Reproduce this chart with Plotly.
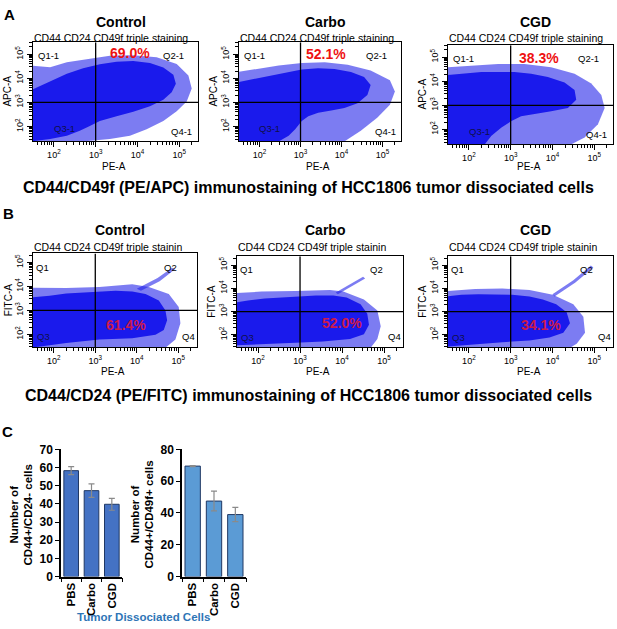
import math
import plotly.graph_objects as go

W, H = 617, 629
FONT = "Liberation Sans, Arial, sans-serif"

# ---------------- data ----------------
PANEL_TITLES = ["Control", "Carbo", "CGD"]
A_PCT = ["69.0%", "52.1%", "38.3%"]
B_PCT = ["61.4%", "52.0%", "34.1%"]
A_QUADS = ["Q1-1", "Q2-1", "Q3-1", "Q4-1"]
B_QUADS = ["Q1", "Q2", "Q3", "Q4"]
FLOW_TICK_VALS = [2, 3, 4, 5]
FLOW_TICK_TEXT = ["10<sup>2</sup>", "10<sup>3</sup>", "10<sup>4</sup>", "10<sup>5</sup>"]
GATE = 3.0  # log10(10^3)

# outlines of the event clouds, log10 units (PE-A, APC-A / FITC-A)
A_CTRL_CORE_X = [1.45, 1.91, 2.31, 2.70, 3.10, 3.50, 3.90, 4.30, 4.62, 4.86, 4.92, 4.82, 4.62, 4.30, 3.90, 3.50, 3.10, 2.86, 2.62, 2.31, 1.91, 1.45]
A_CTRL_CORE_Y = [3.51, 3.88, 4.19, 4.42, 4.58, 4.69, 4.72, 4.64, 4.45, 4.15, 3.78, 3.42, 3.11, 2.84, 2.61, 2.43, 2.23, 2.02, 1.82, 1.62, 1.48, 1.38]
A_CTRL_HALO_X = [1.45, 1.91, 2.31, 2.78, 3.34, 3.90, 4.46, 4.94, 5.22, 5.30, 5.18, 4.94, 4.62, 4.22, 3.82, 3.34, 2.70, 1.45]
A_CTRL_HALO_Y = [4.53, 4.46, 4.67, 4.80, 4.94, 4.96, 4.87, 4.60, 4.12, 3.58, 3.04, 2.63, 2.23, 1.89, 1.62, 1.48, 1.38, 1.38]

A_CARBO_CORE_X = [1.45, 1.83, 2.23, 2.63, 3.03, 3.43, 3.83, 4.23, 4.55, 4.71, 4.63, 4.39, 4.07, 3.75, 3.43, 3.19, 3.03, 2.87, 2.71, 2.47, 1.45]
A_CARBO_CORE_Y = [3.83, 3.96, 4.10, 4.26, 4.37, 4.42, 4.39, 4.26, 4.06, 3.72, 3.31, 2.97, 2.77, 2.66, 2.57, 2.43, 2.23, 1.89, 1.62, 1.38, 1.38]
A_CARBO_HALO_X = [1.45, 1.91, 2.47, 3.03, 3.59, 4.15, 4.71, 5.18, 5.30, 5.18, 4.87, 4.47, 4.07, 1.45]
A_CARBO_HALO_Y = [4.26, 4.39, 4.53, 4.64, 4.67, 4.56, 4.33, 3.92, 3.45, 2.90, 2.36, 1.82, 1.38, 1.38]

A_CGD_CORE_X = [1.45, 1.90, 2.30, 2.70, 3.09, 3.49, 3.89, 4.29, 4.53, 4.57, 4.37, 3.97, 3.57, 3.25, 3.02, 2.78, 2.54, 2.38, 1.45]
A_CGD_CORE_Y = [4.25, 4.31, 4.38, 4.38, 4.38, 4.31, 4.18, 3.95, 3.64, 3.23, 2.89, 2.76, 2.65, 2.55, 2.35, 2.08, 1.74, 1.38, 1.38]
A_CGD_HALO_X = [1.45, 2.06, 2.70, 3.33, 3.97, 4.53, 4.93, 5.17, 5.25, 5.09, 4.77, 4.45, 1.45]
A_CGD_HALO_Y = [4.58, 4.65, 4.72, 4.72, 4.58, 4.31, 3.91, 3.43, 2.89, 2.21, 1.67, 1.38, 1.38]

B_CTRL_CORE_X = [1.45, 1.90, 2.30, 2.70, 3.10, 3.49, 3.89, 4.21, 4.53, 4.69, 4.73, 4.65, 4.45, 3.89, 3.10, 2.30, 1.45]
B_CTRL_CORE_Y = [3.54, 3.61, 3.71, 3.75, 3.79, 3.82, 3.79, 3.68, 3.41, 3.00, 2.59, 2.18, 1.98, 1.84, 1.78, 1.64, 1.44]
B_CTRL_HALO_X = [1.45, 2.30, 3.10, 3.89, 4.29, 4.77, 5.01, 5.05, 4.93, 4.69, 1.45]
B_CTRL_HALO_Y = [3.95, 3.93, 3.98, 4.09, 3.98, 3.68, 3.14, 2.46, 1.78, 1.44, 1.44]
B_CTRL_STREAK_X = [4.00, 4.50, 4.85, 4.92, 4.55, 4.10]
B_CTRL_STREAK_Y = [3.90, 4.35, 4.78, 4.72, 4.22, 3.82]

B_CARBO_CORE_X = [1.45, 1.76, 2.16, 2.57, 2.98, 3.38, 3.79, 4.11, 4.44, 4.60, 4.64, 4.52, 4.19, 3.54, 2.89, 2.08, 1.45]
B_CARBO_CORE_Y = [3.38, 3.48, 3.56, 3.61, 3.65, 3.69, 3.69, 3.61, 3.31, 2.90, 2.43, 2.02, 1.82, 1.71, 1.65, 1.57, 1.54]
B_CARBO_HALO_X = [1.45, 2.08, 2.89, 3.71, 4.03, 4.52, 4.84, 4.92, 4.84, 4.68, 1.45]
B_CARBO_HALO_Y = [3.79, 3.86, 3.88, 3.93, 3.86, 3.52, 3.04, 2.36, 1.82, 1.44, 1.44]
B_CARBO_STREAK_X = [3.85, 4.20, 4.50, 4.55, 4.25, 3.90]
B_CARBO_STREAK_Y = [3.82, 4.20, 4.50, 4.42, 4.10, 3.75]

B_CGD_CORE_X = [1.45, 1.82, 2.23, 2.64, 3.04, 3.45, 3.77, 4.09, 4.34, 4.42, 4.26, 3.93, 3.45, 2.80, 1.99, 1.45]
B_CGD_CORE_Y = [3.65, 3.72, 3.75, 3.72, 3.72, 3.65, 3.52, 3.31, 2.97, 2.50, 2.09, 1.88, 1.75, 1.68, 1.54, 1.48]
B_CGD_HALO_X = [1.45, 2.15, 2.80, 3.45, 4.01, 4.50, 4.74, 4.78, 4.58, 4.42, 1.45]
B_CGD_HALO_Y = [3.88, 3.97, 3.99, 3.93, 3.72, 3.31, 2.77, 2.09, 1.61, 1.44, 1.44]
B_CGD_STREAK_X = [4.00, 4.50, 4.92, 4.98, 4.55, 4.05]
B_CGD_STREAK_Y = [3.75, 4.35, 4.98, 4.90, 4.25, 3.65]

# bar charts (panel C)
GROUPS = ["PBS", "Carbo", "CGD"]
CD24_MEAN = [58.3, 47.3, 39.8]
CD24_ERR = [2.2, 3.7, 3.3]
CD49F_MEAN = [69.5, 47.5, 39.0]
CD49F_ERR = [0.3, 6.2, 4.5]


# ---------------- layout helpers ----------------
def fx(p):
    return p / W


def fy(p):
    return 1 - p / H


CORE_COLOR = "#1a1aec"
HALO_COLOR = "rgba(30,30,232,0.58)"

fig = go.Figure()
layout = dict(
    width=W, height=H, margin=dict(l=0, r=0, t=0, b=0, pad=0), autosize=False,
    paper_bgcolor="white", plot_bgcolor="white", showlegend=False,
    font=dict(family=FONT, color="black"),
)
annotations = []
shapes = []

minor_vals = sorted(n + math.log10(k) for n in range(1, 6) for k in range(2, 10))

flow_panels = [
    dict(frame=(33, 198, 36, 137), yr=(1.4, 5.5), ylab="APC-A", core=(A_CTRL_CORE_X, A_CTRL_CORE_Y), halo=(A_CTRL_HALO_X, A_CTRL_HALO_Y), streak=None, title=PANEL_TITLES[0], pct=A_PCT[0], row="A"),
    dict(frame=(239, 401, 36, 137), yr=(1.4, 5.5), ylab="APC-A", core=(A_CARBO_CORE_X, A_CARBO_CORE_Y), halo=(A_CARBO_HALO_X, A_CARBO_HALO_Y), streak=None, title=PANEL_TITLES[1], pct=A_PCT[1], row="A"),
    dict(frame=(448, 613, 39, 140), yr=(1.4, 5.5), ylab="APC-A", core=(A_CGD_CORE_X, A_CGD_CORE_Y), halo=(A_CGD_HALO_X, A_CGD_HALO_Y), streak=None, title=PANEL_TITLES[2], pct=A_PCT[2], row="A"),
    dict(frame=(33, 197, 252, 348), yr=(1.46, 5.38), ylab="FITC-A", core=(B_CTRL_CORE_X, B_CTRL_CORE_Y), halo=(B_CTRL_HALO_X, B_CTRL_HALO_Y), streak=(B_CTRL_STREAK_X, B_CTRL_STREAK_Y), title=PANEL_TITLES[0], pct=B_PCT[0], row="B"),
    dict(frame=(237, 403, 255, 348), yr=(1.46, 5.38), ylab="FITC-A", core=(B_CARBO_CORE_X, B_CARBO_CORE_Y), halo=(B_CARBO_HALO_X, B_CARBO_HALO_Y), streak=(B_CARBO_STREAK_X, B_CARBO_STREAK_Y), title=PANEL_TITLES[1], pct=B_PCT[1], row="B"),
    dict(frame=(448, 613, 255, 348), yr=(1.46, 5.38), ylab="FITC-A", core=(B_CGD_CORE_X, B_CGD_CORE_Y), halo=(B_CGD_HALO_X, B_CGD_HALO_Y), streak=(B_CGD_STREAK_X, B_CGD_STREAK_Y), title=PANEL_TITLES[2], pct=B_PCT[2], row="B"),
]

A_PCT_POS = [(3.82, 5.07), (3.63, 5.0), (3.69, 4.95)]
B_PCT_POS = [(3.73, 2.39), (3.99, 2.50), (3.73, 2.43)]
X_RANGE = (1.5, 5.45)

for i, p in enumerate(flow_panels, start=1):
    sfx = "" if i == 1 else str(i)
    xr, yr_ = "x" + sfx, "y" + sfx
    l, r, t, b = p["frame"]
    y0, y1 = p["yr"]
    layout["xaxis" + sfx] = dict(
        domain=[fx(l), fx(r)], range=list(X_RANGE), anchor=yr_,
        showline=True, mirror=True, linecolor="black", linewidth=1,
        ticks="outside", ticklen=5, tickwidth=1, tickcolor="black",
        tickvals=FLOW_TICK_VALS, ticktext=FLOW_TICK_TEXT, tickfont=dict(size=9),
        minor=dict(tickvals=minor_vals, ticks="outside", ticklen=3, tickwidth=1, tickcolor="black"),
        showgrid=False, zeroline=False, fixedrange=True,
    )
    layout["yaxis" + sfx] = dict(
        domain=[fy(b), fy(t)], range=[y0, y1], anchor=xr,
        showline=True, mirror=True, linecolor="black", linewidth=1,
        ticks="outside", ticklen=5, tickwidth=1, tickcolor="black",
        tickvals=FLOW_TICK_VALS, ticktext=FLOW_TICK_TEXT, tickfont=dict(size=9), tickangle=-90,
        minor=dict(tickvals=minor_vals, ticks="outside", ticklen=3, tickwidth=1, tickcolor="black"),
        showgrid=False, zeroline=False, fixedrange=True,
    )
    hx, hy = p["halo"]
    fig.add_trace(go.Scatter(x=hx, y=hy, fill="toself", mode="lines", line=dict(width=0),
                             fillcolor=HALO_COLOR, xaxis=xr, yaxis=yr_, hoverinfo="skip"))
    if p["streak"]:
        sx, sy = p["streak"]
        fig.add_trace(go.Scatter(x=sx, y=sy, fill="toself", mode="lines", line=dict(width=0),
                                 fillcolor=HALO_COLOR, xaxis=xr, yaxis=yr_, hoverinfo="skip"))
    cx, cy = p["core"]
    fig.add_trace(go.Scatter(x=cx, y=cy, fill="toself", mode="lines", line=dict(width=0),
                             fillcolor=CORE_COLOR, xaxis=xr, yaxis=yr_, hoverinfo="skip"))
    shapes.append(dict(type="line", xref=xr, yref=yr_, x0=GATE, x1=GATE, y0=y0, y1=y1,
                       line=dict(color="black", width=1.3)))
    shapes.append(dict(type="line", xref=xr, yref=yr_, x0=X_RANGE[0], x1=X_RANGE[1], y0=GATE, y1=GATE,
                       line=dict(color="black", width=1.3)))
    cxp = (l + r) / 2
    if p["row"] == "A":
        title_y, sub_y, pe_y = 15, 32, 163
        quads = A_QUADS
        px_, py_ = A_PCT_POS[i - 1]
        pct_color = "#ee1111"
        qpos = [(1.87, 4.96), (4.86, 4.96), (2.25, 1.92), (5.06, 1.80)]
    else:
        title_y, sub_y, pe_y = 228, 245, 373
        quads = B_QUADS
        px_, py_ = B_PCT_POS[i - 4]
        pct_color = "#cc1a4a"
        qpos = [(1.72, 4.80), (4.81, 4.80), (1.75, 1.90), (5.25, 1.92)]
    annotations.append(dict(x=fx(cxp + 5), y=fy(title_y), xref="paper", yref="paper", text="<b>%s</b>" % p["title"],
                            showarrow=False, font=dict(size=14), xanchor="center", yanchor="middle"))
    annotations.append(dict(x=fx(l - 1), y=fy(sub_y), xref="paper", yref="paper",
                            text="CD44 CD24 CD49f triple staining" if p["row"] == "A" else "CD44 CD24 CD49f triple stainin",
                            showarrow=False, font=dict(size=10.5), xanchor="left", yanchor="middle"))
    annotations.append(dict(x=fx(cxp - 2), y=fy(pe_y), xref="paper", yref="paper", text="PE-A",
                            showarrow=False, font=dict(size=10), xanchor="center", yanchor="middle"))
    annotations.append(dict(x=fx(l - 25), y=fy((t + b) / 2), xref="paper", yref="paper", text=p["ylab"],
                            showarrow=False, font=dict(size=10), textangle=-90, xanchor="center", yanchor="middle"))
    annotations.append(dict(x=px_, y=py_, xref=xr, yref=yr_, text="<b>%s</b>" % p["pct"],
                            showarrow=False, font=dict(size=14, color=pct_color), xanchor="center", yanchor="middle"))
    for q, (qx, qy) in zip(quads, qpos):
        col = "#10104a" if q.startswith("Q3") else "black"
        annotations.append(dict(x=qx, y=qy, xref=xr, yref=yr_, text=q, showarrow=False,
                                font=dict(size=9.5, color=col), xanchor="center", yanchor="middle"))

annotations.append(dict(x=fx(308), y=fy(185), xref="paper", yref="paper",
                        text="<b>CD44/CD49f (PE/APC) immunostaining of HCC1806 tumor dissociated cells</b>",
                        showarrow=False, font=dict(size=16), xanchor="center", yanchor="middle"))
annotations.append(dict(x=fx(308), y=fy(397), xref="paper", yref="paper",
                        text="<b>CD44/CD24 (PE/FITC) immunostaining of HCC1806 tumor dissociated cells</b>",
                        showarrow=False, font=dict(size=16), xanchor="center", yanchor="middle"))
for letter, (lx, ly) in zip(["A", "B", "C"], [(9, 8), (8, 211), (7, 434)]):
    annotations.append(dict(x=fx(lx), y=fy(ly), xref="paper", yref="paper", text="<b>%s</b>" % letter,
                            showarrow=False, font=dict(size=15), xanchor="center", yanchor="middle"))

# ---------------- panel C bars ----------------
bar_specs = [
    dict(idx=7, dom=(61, 122), yrange=(0, 70), dtick=10, mean=CD24_MEAN, err=CD24_ERR, color="#4472C4",
         lines=("Number of", "CD44+/CD24- cells"), tx=21),
    dict(idx=8, dom=(182, 246), yrange=(0, 80), dtick=20, mean=CD49F_MEAN, err=CD49F_ERR, color="#5B9BD5",
         lines=("Number of", "CD44+/CD49f+ cells"), tx=142),
]
for s in bar_specs:
    sfx = str(s["idx"])
    xr, yr_ = "x" + sfx, "y" + sfx
    fig.add_trace(go.Bar(
        x=GROUPS, y=s["mean"], width=0.72, xaxis=xr, yaxis=yr_,
        marker=dict(color=s["color"], line=dict(color="#203864", width=1)),
        error_y=dict(type="data", array=s["err"], color="#8a8a8a", thickness=1.2, width=3),
        hoverinfo="skip",
    ))
    l, r = s["dom"]
    layout["xaxis" + sfx] = dict(
        domain=[fx(l), fx(r)], anchor=yr_, type="category", range=[-0.5, 2.5],
        showline=True, linecolor="black", linewidth=1.5, ticks="outside", tickson="boundaries",
        ticklen=4, tickcolor="black", tickangle=-90, tickfont=dict(size=11.5, weight="bold"),
        showgrid=False, zeroline=False, fixedrange=True,
    )
    layout["yaxis" + sfx] = dict(
        domain=[fy(582.5), fy(452.5)], anchor=xr, range=list(s["yrange"]), dtick=s["dtick"],
        showline=True, linecolor="black", linewidth=1.5, ticks="outside", ticklen=4, tickcolor="black",
        tickfont=dict(size=12, weight="bold"), showgrid=False, zeroline=False, fixedrange=True,
    )
    annotations.append(dict(x=fx(s["tx"]), y=fy(519), xref="paper", yref="paper",
                            text="<b>%s<br>%s</b>" % s["lines"], showarrow=False, textangle=-90,
                            font=dict(size=11.5), xanchor="center", yanchor="middle"))

annotations.append(dict(x=fx(143), y=fy(624), xref="paper", yref="paper", text="<b>Tumor Dissociated Cells</b>",
                        showarrow=False, font=dict(size=11.5, color="#2E75B6"), xanchor="center", yanchor="middle"))

layout["annotations"] = annotations
layout["shapes"] = shapes
layout["bargap"] = 0.28
fig.update_layout(**layout)
fig.write_html(
    "out.html",
    config={"displayModeBar": False},
    post_script="document.body.style.margin='0px';document.body.style.padding='0px';"
                "document.documentElement.style.overflow='hidden';document.body.style.overflow='hidden';",
)
